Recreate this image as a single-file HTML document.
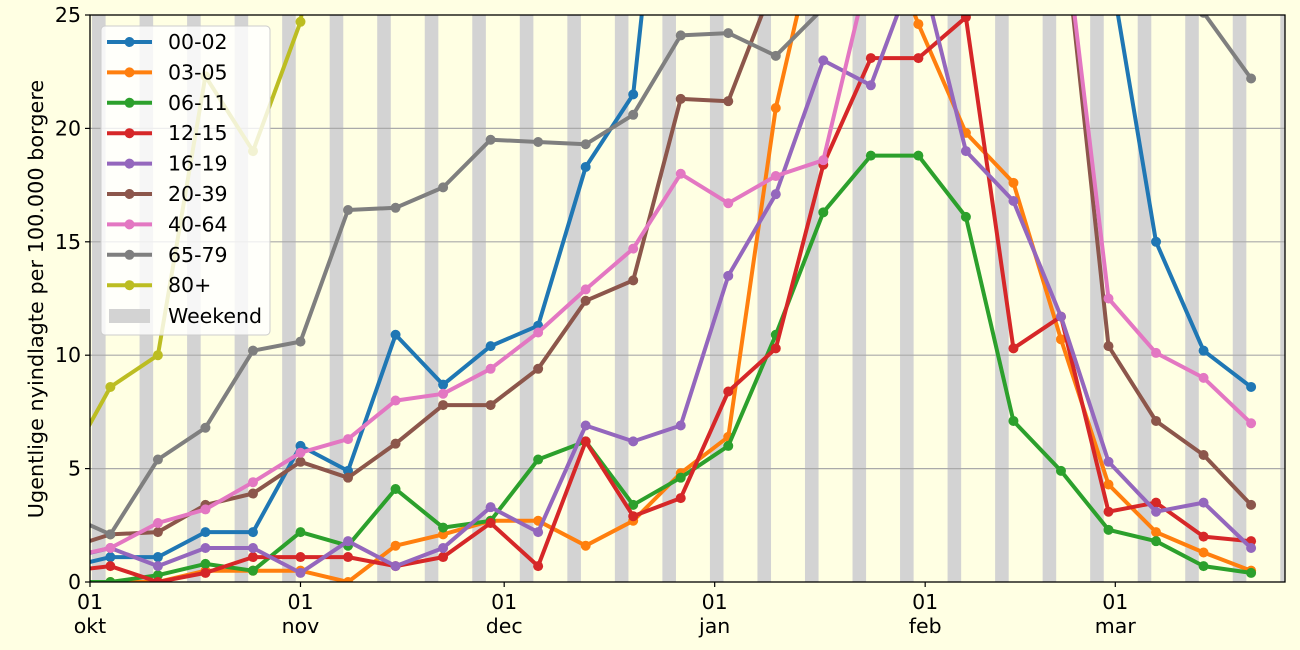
<!DOCTYPE html>
<html><head><meta charset="utf-8"><style>
html,body{margin:0;padding:0;background:#ffffe3;}
svg{display:block;font-family:"DejaVu Sans","Liberation Sans",sans-serif;}
</style></head><body>
<svg id="chart" width="1300" height="650" viewBox="0 0 1300 650" xmlns="http://www.w3.org/2000/svg">
<rect x="0" y="0" width="1300" height="650" fill="#ffffe3"/>
<defs><clipPath id="plotclip"><rect x="90" y="15" width="1195" height="567"/></clipPath></defs>
<g id="bands" clip-path="url(#plotclip)"></g>
<g id="grid"></g>
<g id="series" clip-path="url(#plotclip)"></g>
<rect x="90" y="15" width="1195" height="567" fill="none" stroke="#000" stroke-width="1.3"/>
<g id="axes"></g>
<text transform="translate(43,299) rotate(-90)" text-anchor="middle" font-size="20.8">Ugentlige nyindlagte per 100.000 borgere</text>
<g id="legend"></g>
</svg>
<script>
const days = [-4,3,10,17,24,31,38,45,52,59,66,73,80,87,94,101,108,115,122,129,136,143,150,157,164,171];
const seriesNames = ["00-02","03-05","06-11","12-15","16-19","20-39","40-64","65-79","80+"];
const v0002 = [0.6,1.1,1.1,2.2,2.2,6.0,4.9,10.9,8.7,10.4,11.3,18.3,21.5,41,55,60,62,62,60,58,52,45,27.5,15.0,10.2,8.6];
const v0305 = [0.0,0.0,0.0,0.5,0.5,0.5,0.0,1.6,2.1,2.7,2.7,1.6,2.7,4.8,6.4,20.9,30,30,24.6,19.8,17.6,10.7,4.3,2.2,1.3,0.5];
const v0611 = [0.0,0.0,0.3,0.8,0.5,2.2,1.6,4.1,2.4,2.7,5.4,6.2,3.4,4.6,6.0,10.9,16.3,18.8,18.8,16.1,7.1,4.9,2.3,1.8,0.7,0.4];
const v1215 = [0.46,0.7,0.0,0.4,1.1,1.1,1.1,0.7,1.1,2.6,0.7,6.2,2.9,3.7,8.4,10.3,18.4,23.1,23.1,24.9,10.3,11.7,3.1,3.5,2.0,1.8];
const v1619 = [1.0,1.5,0.7,1.5,1.5,0.4,1.8,0.7,1.5,3.3,2.2,6.9,6.2,6.9,13.5,17.1,23.0,21.9,27.5,19.0,16.8,11.7,5.3,3.1,3.5,1.5];
const v2039 = [1.43,2.1,2.2,3.4,3.9,5.3,4.6,6.1,7.8,7.8,9.4,12.4,13.3,21.3,21.2,26.6,32,36,38,37,34,30,10.4,7.1,5.6,3.4];
const v4064 = [1.05,1.5,2.6,3.2,4.4,5.7,6.3,8.0,8.3,9.4,11.0,12.9,14.7,18.0,16.7,17.9,18.6,27.4,36,40,38,30,12.5,10.1,9.0,7.0];
const v6579 = [3.05,2.1,5.4,6.8,10.2,10.6,16.4,16.5,17.4,19.5,19.4,19.3,20.6,24.1,24.2,23.2,25.3,30,33,34,34,33,30,28,25.1,22.2];
const v80 = [4.8,8.6,10.0,22.3,19.0,24.7,40,50,55,60,70,80,90,100,100,95,90,85,80,70,60,55,50,45,40,35];
const yTicks = [0,5,10,15,20,25];
const monthDays = [0,31,61,92,123,151];
const monthLabels = ["okt","nov","dec","jan","feb","mar"];
const weekendStarts = [0.3,7.3,14.3,21.3,28.3,35.3,42.3,49.3,56.3,63.3,70.3,77.3,84.3,91.3,98.3,105.3,112.3,119.3,126.3,133.3,140.3,147.3,154.3,161.3,168.3,175.3];

const NS="http://www.w3.org/2000/svg";
const X0=90,X1=1285,Y0=582,Y1=15,DAYPX=6.79,YMAX=25;
function xs(d){return X0+d*DAYPX;}
function ys(v){return Y0-(v/YMAX)*(Y0-Y1);}
function mk(tag,attrs,parent){const e=document.createElementNS(NS,tag);for(const k in attrs)e.setAttribute(k,attrs[k]);parent.appendChild(e);return e;}
const colors=["#1f77b4","#ff7f0e","#2ca02c","#d62728","#9467bd","#8c564b","#e377c2","#7f7f7f","#bcbd22"];
const allVals=[v0002,v0305,v0611,v1215,v1619,v2039,v4064,v6579,v80];

const bands=document.getElementById('bands');
weekendStarts.forEach(d=>{
  const r=mk('rect',{x:xs(d),y:Y1,width:2*DAYPX,height:Y0-Y1,fill:'#d3d3d3'},bands);
  
  
});
const grid=document.getElementById('grid');
const axes=document.getElementById('axes');
yTicks.forEach(t=>{
  if(t>0&&t<YMAX){const g=mk('line',{x1:X0,x2:X1,y1:ys(t),y2:ys(t),stroke:'#aaaaaa','stroke-width':1.2},grid);
  
  }
  const tk=mk('line',{x1:X0-5,x2:X0,y1:ys(t),y2:ys(t),stroke:'#000','stroke-width':1.2},axes);
  
  
  const tl=mk('text',{x:X0-9,y:ys(t)+7,'text-anchor':'end','font-size':20.5},axes);
  tl.textContent=t;
  
  
});
monthDays.forEach((d,i)=>{
  const x=xs(d);
  const tk=mk('line',{x1:x,x2:x,y1:Y0,y2:Y0+5,stroke:'#000','stroke-width':1.2},axes);
  
  
  const t1=mk('text',{x:x,y:609,'text-anchor':'middle','font-size':20.5},axes);
  t1.textContent='01';
  
  
  const t2=mk('text',{x:x,y:633,'text-anchor':'middle','font-size':20.5},axes);
  t2.textContent=monthLabels[i];
  
  
});
const sg=document.getElementById('series');
allVals.forEach((vals,si)=>{
  const g=mk('g',{},sg);
  
  
  const pts=vals.map((v,i)=>xs(days[i]).toFixed(1)+','+ys(v).toFixed(1)).join(' ');
  const pl=mk('polyline',{points:pts,fill:'none',stroke:colors[si],'stroke-width':4,'stroke-linejoin':'round'},g);
  
  
  vals.forEach((v,i)=>{
    const c=mk('circle',{cx:xs(days[i]),cy:ys(v),r:5,fill:colors[si]},g);
    
    
  });
});
const lg=document.getElementById('legend');
const box=mk('rect',{x:101,y:26,width:169,height:309,rx:4,fill:'#ffffff','fill-opacity':0.8,stroke:'#cccccc','stroke-width':1},lg);


seriesNames.forEach((n,i)=>{
  const y=42+i*30.4;
  const g=mk('g',{},lg);
  
  
  mk('line',{x1:107,x2:152,y1:y,y2:y,stroke:colors[i],'stroke-width':4},g);
  mk('circle',{cx:129.5,cy:y,r:5,fill:colors[i]},g);
  const t=mk('text',{x:168,y:y+7,'font-size':20.5},g);
  t.textContent=n;
});
const wg=mk('g',{},lg);


mk('rect',{x:109,y:309,width:41,height:14,fill:'#d3d3d3'},wg);
const wt=mk('text',{x:168,y:323,'font-size':20.5},wg);
wt.textContent='Weekend';
</script>
</body></html>
